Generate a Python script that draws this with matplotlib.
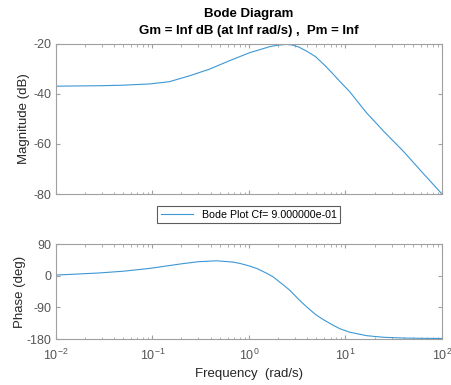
import numpy as np
import matplotlib.pyplot as plt

plt.rcParams['font.family'] = ['Liberation Sans', 'DejaVu Sans']
plt.rcParams['mathtext.fontset'] = 'custom'
plt.rcParams['mathtext.rm'] = 'Liberation Sans'
plt.rcParams['mathtext.it'] = 'Liberation Sans:italic'
plt.rcParams['mathtext.bf'] = 'Liberation Sans:bold'
plt.rcParams['axes.unicode_minus'] = False

# values
freq_mag = [0.01, 0.03, 0.05, 0.094, 0.15, 0.24, 0.39, 0.63, 1.02, 1.35, 1.64,
            2.0, 2.45, 2.85, 3.3, 4.0, 4.9, 6.0, 7.3, 9.0, 11, 16.5, 25, 40,
            63, 100]
mag_db = [-36.9, -36.7, -36.5, -36.0, -35.1, -32.8, -30.1, -26.7, -23.5, -22.1,
          -21.1, -20.5, -20.2, -20.5, -21.3, -23.0, -25.1, -28.3, -31.7, -35.5,
          -39.0, -47.5, -55.0, -63.0, -71.5, -80.0]

freq_ph = [0.01, 0.028, 0.05, 0.094, 0.2, 0.3, 0.46, 0.68, 0.81, 1.02, 1.2,
           1.53, 1.78, 2.27, 2.65, 3.3, 3.95, 4.9, 5.86, 7.3, 8.7, 11, 16.5,
           24.5, 37, 60, 100]
phase_deg = [2, 8, 13, 21, 34, 40, 42.6, 39, 35, 27.5, 21, 7, -3, -26, -41,
             -68, -88, -110, -124, -139, -150, -160, -170, -174.5, -176.5,
             -177.5, -178]

legend_label = 'Bode Plot Cf= 9.000000e-01'
line_color = '#3c97d6'
gray = '#555555'
edge = '#a0a0a0'

fig = plt.figure(figsize=(4.51, 3.85), dpi=100)
ax1 = fig.add_axes([0.124, 0.496, 0.856, 0.390])
ax2 = fig.add_axes([0.124, 0.119, 0.856, 0.247])

ax1.semilogx(freq_mag, mag_db, color=line_color, lw=0.8, label=legend_label)
ax2.semilogx(freq_ph, phase_deg, color=line_color, lw=0.8)

ax1.set_ylim(-80, -20)
ax1.set_yticks([-80, -60, -40, -20])
ax2.set_ylim(-180, 90)
ax2.set_yticks([-180, -90, 0, 90])

for ax in (ax1, ax2):
    ax.set_xlim(0.01, 100)
    ax.tick_params(which='both', direction='in', top=True, right=True,
                   colors=edge, labelcolor=gray, labelsize=9)
    ax.tick_params(which='major', length=3)
    ax.tick_params(which='minor', length=1.8)
    ax.tick_params(axis='x', which='major', pad=6)
    for s in ax.spines.values():
        s.set_color(edge)
        s.set_linewidth(0.8)
ax1.tick_params(labelbottom=False)

ax1.set_ylabel('Magnitude (dB)', fontsize=9.5, color='#262626', labelpad=2)
ax2.set_ylabel('Phase (deg)', fontsize=9.5, color='#262626', labelpad=0)
ax2.set_xlabel('Frequency  (rad/s)', fontsize=9.5, color='#262626', labelpad=4)

ax1.set_title('Bode Diagram\nGm = Inf dB (at Inf rad/s) ,  Pm = Inf',
              fontsize=9.5, fontweight='bold', pad=7, linespacing=1.55)

leg = ax1.legend(loc='center', bbox_to_anchor=(0.50, -0.137), fontsize=7.7,
                 frameon=True, fancybox=False, handlelength=3.0,
                 borderpad=0.35, borderaxespad=0)
leg.get_frame().set_edgecolor('#333333')
leg.get_frame().set_linewidth(0.8)

fig.savefig('out.png', dpi=100)
